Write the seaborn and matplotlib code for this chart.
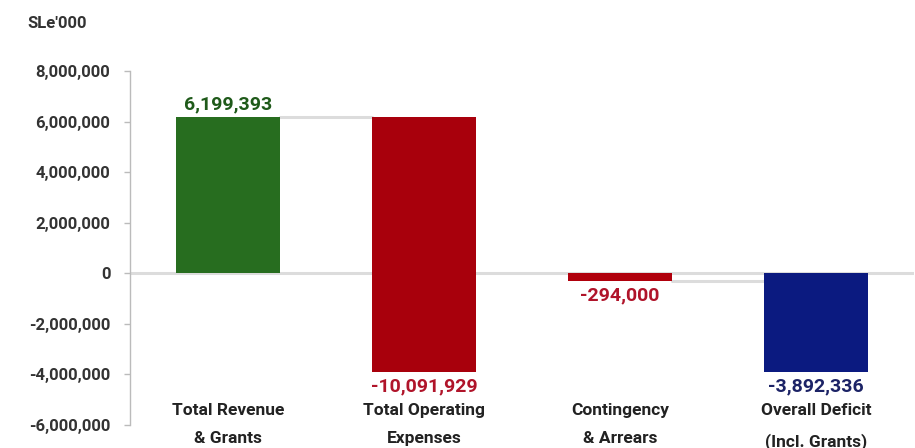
import matplotlib
matplotlib.use("Agg")
import matplotlib.pyplot as plt
import matplotlib.transforms as mtransforms
import seaborn as sns
import pandas as pd

# Budget outturn components, SLe'000
categories = ["Total Revenue\n& Grants", "Total Operating\nExpenses",
              "Contingency\n& Arrears", "Overall Deficit\n(Incl. Grants)"]
values = [6199393, -10091929, -294000, -3892336]
value_labels = ["6,199,393", "-10,091,929", "-294,000", "-3,892,336"]
y_ticks = [8000000, 6000000, 4000000, 2000000, 0, -2000000, -4000000, -6000000]
y_tick_labels = ["8,000,000", "6,000,000", "4,000,000", "2,000,000", "0",
                 "-2,000,000", "-4,000,000", "-6,000,000"]

bar_colors = ["#276d1f", "#a8000c", "#b0000c", "#0b1a80"]
label_colors = ["#1f5a1a", "#b0142a", "#b0142a", "#1c2366"]

# Expenses float down from the revenue level; the rest start at zero
bases = [0, values[0], 0, 0]
ends = [b + v for b, v in zip(bases, values)]

sns.set_theme(style="white")
plt.rcParams["font.family"] = ["Roboto", "DejaVu Sans"]

fig = plt.figure(figsize=(9.15, 4.48), dpi=100)
ax = fig.add_axes([0.142, 0.0513, 0.857, 0.7902])

df = pd.DataFrame({"item": categories, "value": values})
bar_width = 0.53
sns.barplot(data=df, x="item", y="value", order=categories, color=bar_colors[0],
            width=bar_width, bottom=bases, errorbar=None, ax=ax,
            saturation=1, edgecolor="none", zorder=3)
for patch, col in zip(ax.patches, bar_colors):
    patch.set_facecolor(col)

ax.set_xlim(-0.5, 3.5)
ax.set_ylim(-6000000, 8000000)

# zero line and connectors
ax.axhline(0, color="#dcdcdc", lw=2.2, zorder=1)
half = bar_width / 2
ax.plot([0 + half, 1 - half], [ends[0], ends[0]], color="#dcdcdc", lw=2.2, zorder=1)
ax.plot([2 + half, 3 - half], [ends[2], ends[2]], color="#dcdcdc", lw=2.2, zorder=1)

# value labels
for i, (lab, col) in enumerate(zip(value_labels, label_colors)):
    if values[i] >= 0:
        ax.annotate(lab, (i, max(bases[i], ends[i])), xytext=(0, 2),
                    textcoords="offset points", ha="center", va="bottom",
                    fontsize=14, fontweight="bold", color=col, zorder=4)
    else:
        ax.annotate(lab, (i, min(bases[i], ends[i])), xytext=(0, -4),
                    textcoords="offset points", ha="center", va="top",
                    fontsize=14, fontweight="bold", color=col, zorder=4)

# category labels sit inside the bottom of the plot area
ax.set_xticks([])
ax.set_xlabel("")
trans = mtransforms.blended_transform_factory(ax.transData, ax.transAxes)
for i, cat in enumerate(categories):
    ax.text(i, 0.062, cat, transform=trans, ha="center", va="top",
            fontsize=12.5, fontweight="bold", color="#222222", linespacing=2.1)

ax.set_yticks(y_ticks)
ax.set_yticklabels(y_tick_labels)
ax.set_ylabel("")
ax.tick_params(axis="y", length=4, width=1, color="#bbbbbb", pad=10,
               labelsize=12, labelcolor="#333333", left=True)
for lbl in ax.get_yticklabels():
    lbl.set_fontweight("bold")

for side in ["top", "right", "bottom"]:
    ax.spines[side].set_visible(False)
ax.spines["left"].set_color("#bbbbbb")
ax.spines["left"].set_linewidth(1)

fig.text(0.03, 0.948, "SLe'000", fontsize=12, fontweight="bold",
         color="#333333", ha="left", va="center")

fig.savefig("out.png", dpi=100, facecolor="white")
